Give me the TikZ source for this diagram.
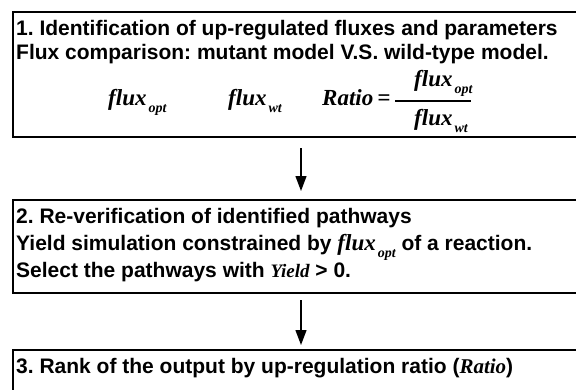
\documentclass[tikz,border=0pt]{standalone}
\usepackage{fontspec}
\setmainfont{Liberation Sans}
\newfontfamily\tmsfont{Liberation Serif}
\usetikzlibrary{arrows.meta}
\frenchspacing
\newcommand{\mvar}[2][23]{{\tmsfont\bfseries\itshape\fontsize{#1}{#1}\selectfont #2}}
\newcommand{\fxsub}[2][23]{\mvar[#1]{flux}\kern2pt\raisebox{-7pt}{\mvar[14]{#2}}}
\tikzset{
  stage/.style={draw, line width=2pt, anchor=north west, inner sep=0pt, minimum width=576pt},
  txt/.style={anchor=base west, inner sep=0pt, font=\fontsize{21}{24}\selectfont\bfseries\frenchspacing},
  arr/.style={line width=1.3pt, -{Triangle[length=15pt,width=11pt]}},
}
\begin{document}
\begin{tikzpicture}[x=1pt,y=-1pt]
\useasboundingbox (0,0) rectangle (576,389);
\clip (0,0) rectangle (576,389);
\fill[white] (0,0) rectangle (576,389);
% boxes
\node[stage, minimum height=125pt] (box1) at (12,11) {};
\node[stage, minimum height=93pt] (box2) at (12,199) {};
\node[stage, minimum height=75pt] (box3) at (12,349) {};
% box 1 texts
\node[txt] (t11) at (16,35) {1. Identification of up-regulated fluxes and parameters};
\node[txt] (t12) at (16,59) {Flux comparison: mutant model V.S. wild-type model.};
\node[txt] (m1) at (108,105) {\fxsub{opt}};
\node[txt] (m2) at (228,105) {\fxsub{wt}};
\node[txt] (m3) at (322,105) {\mvar{Ratio}\kern4pt\mvar{=}};
\node[txt] (num) at (414,86) {\fxsub{opt}};
\node[txt] (den) at (414,125) {\fxsub{wt}};
\coordinate (barL) at (395,101);
\coordinate (barR) at (471,101);
\draw[line width=1.3pt] (barL) -- (barR);
% box 2 texts
\node[txt] (t21) at (16,223) {2. Re-verification of identified pathways};
\node[txt] (t22) at (16,250) {Yield simulation constrained by \fxsub{opt} of a reaction.};
\node[txt] (t23) at (16,277) {Select the pathways with \mvar[19]{Yield} {>} 0.};
% box 3 text
\node[txt] (t31) at (16,373) {3. Rank of the output by up-regulation ratio (\mvar[21]{Ratio})};
% arrows
\draw[arr, shorten <=10pt, shorten >=8pt] (box1.south) -- (box2.north);
\draw[arr, shorten <=6pt, shorten >=4pt] (box2.south) -- (box3.north);
\end{tikzpicture}
\end{document}
